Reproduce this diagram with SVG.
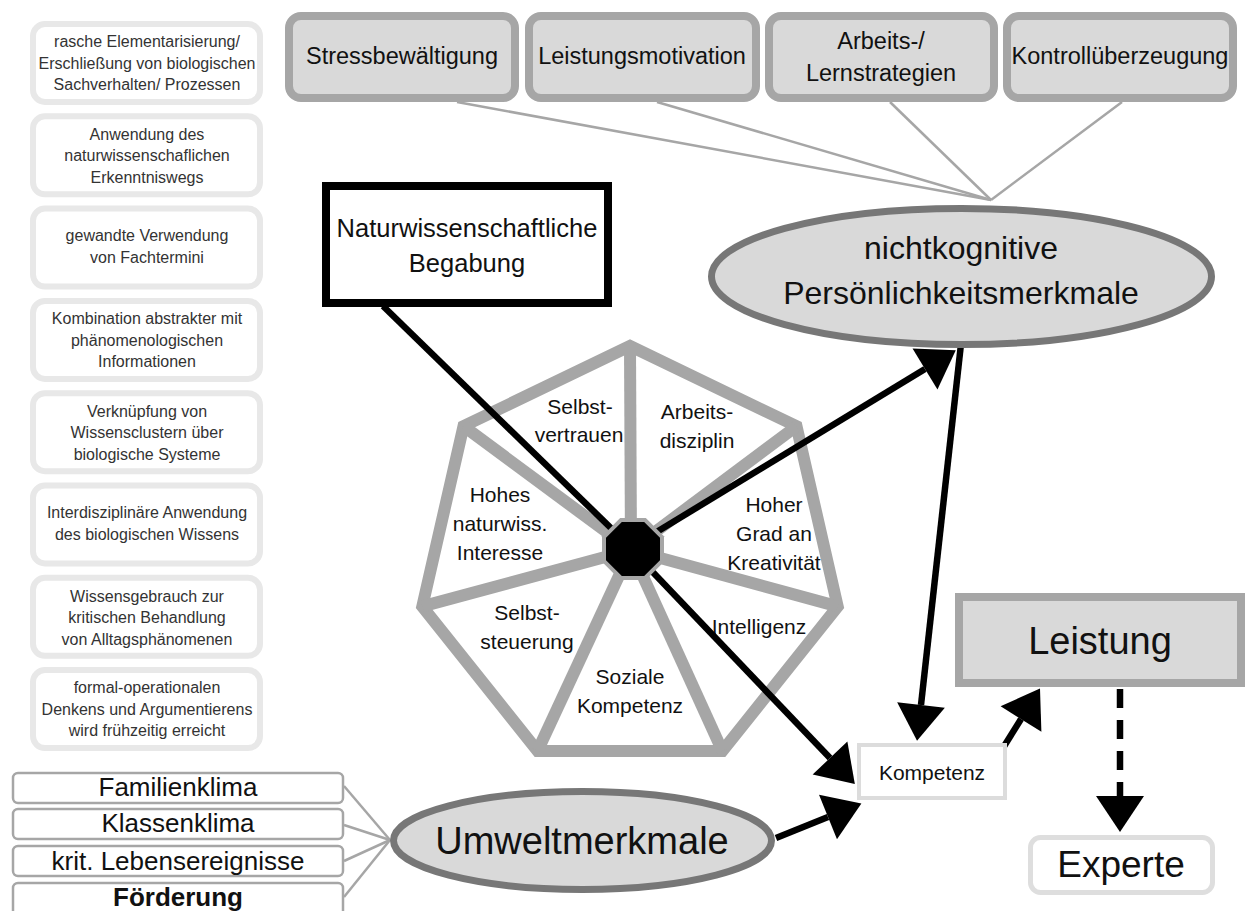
<svg xmlns="http://www.w3.org/2000/svg" width="1245" height="911" viewBox="0 0 1245 911">
  <defs>
    <style>
      text { font-family: "Liberation Sans", Arial, sans-serif; fill: #111; text-anchor: middle; }
      .kbox { fill: #fff; stroke: #e8e8e8; stroke-width: 6; }
      .ktxt { font-size: 16px; fill: #333; }
      .pbox { fill: #d9d9d9; stroke: #a6a6a6; stroke-width: 8; }
      .ptxt { font-size: 23.5px; }
      .ell { fill: #d9d9d9; stroke: #777; stroke-width: 7; }
      .ubox { fill: #fff; stroke: #a6a6a6; stroke-width: 2.5; }
      .utxt { font-size: 26px; }
      .hept { fill: #fff; stroke: #a6a6a6; stroke-width: 12; stroke-linejoin: miter; }
      .spoke { stroke: #a6a6a6; stroke-width: 12; }
      .htxt { font-size: 21px; }
      .thin { stroke: #a6a6a6; stroke-width: 2.5; fill: none; }
      .arrow { stroke: #000; stroke-width: 6.5; fill: none; }
    </style>
    <marker id="head" markerUnits="userSpaceOnUse" markerWidth="40" markerHeight="52" viewBox="0 -26 40 52" refX="0" refY="0" orient="auto" overflow="visible">
      <path d="M0,-24 L36,0 L0,24 Z" fill="#000" stroke="none"/>
    </marker>
  </defs>

  <!-- thin connectors: personality traits and environment factors -->
  <g id="thin-connectors">
    <line class="thin" x1="457" y1="102" x2="991" y2="200"/>
    <line class="thin" x1="657" y1="102" x2="991" y2="200"/>
    <line class="thin" x1="890" y1="102" x2="991" y2="200"/>
    <line class="thin" x1="1122" y1="102" x2="991" y2="200"/>
    <line class="thin" x1="344" y1="786" x2="390" y2="840"/>
    <line class="thin" x1="344" y1="825" x2="390" y2="840"/>
    <line class="thin" x1="344" y1="861" x2="390" y2="840"/>
    <line class="thin" x1="344" y1="897" x2="390" y2="840"/>
  </g>

  <!-- knowledge characteristics, left column -->
  <g id="k1"><rect class="kbox" x="33" y="24" width="227" height="78" rx="12"/>
    <text class="ktxt" x="147" y="47">rasche Elementarisierung/</text>
    <text class="ktxt" x="147" y="68.5">Erschließung von biologischen</text>
    <text class="ktxt" x="147" y="90">Sachverhalten/ Prozessen</text></g>
  <g id="k2"><rect class="kbox" x="33" y="116.3" width="227" height="78" rx="12"/>
    <text class="ktxt" x="147" y="139.5">Anwendung des</text>
    <text class="ktxt" x="147" y="161">naturwissenschaflichen</text>
    <text class="ktxt" x="147" y="182.5">Erkenntniswegs</text></g>
  <g id="k3"><rect class="kbox" x="33" y="208.6" width="227" height="78" rx="12"/>
    <text class="ktxt" x="147" y="240.5">gewandte Verwendung</text>
    <text class="ktxt" x="147" y="262.5">von Fachtermini</text></g>
  <g id="k4"><rect class="kbox" x="33" y="300.9" width="227" height="78" rx="12"/>
    <text class="ktxt" x="147" y="324">Kombination abstrakter mit</text>
    <text class="ktxt" x="147" y="345.5">phänomenologischen</text>
    <text class="ktxt" x="147" y="367">Informationen</text></g>
  <g id="k5"><rect class="kbox" x="33" y="393.2" width="227" height="78" rx="12"/>
    <text class="ktxt" x="147" y="416.5">Verknüpfung von</text>
    <text class="ktxt" x="147" y="438">Wissensclustern über</text>
    <text class="ktxt" x="147" y="459.5">biologische Systeme</text></g>
  <g id="k6"><rect class="kbox" x="33" y="485.5" width="227" height="78" rx="12"/>
    <text class="ktxt" x="147" y="518">Interdisziplinäre Anwendung</text>
    <text class="ktxt" x="147" y="540">des biologischen Wissens</text></g>
  <g id="k7"><rect class="kbox" x="33" y="577.8" width="227" height="78" rx="12"/>
    <text class="ktxt" x="147" y="601.5">Wissensgebrauch zur</text>
    <text class="ktxt" x="147" y="623">kritischen Behandlung</text>
    <text class="ktxt" x="147" y="644.5">von Alltagsphänomenen</text></g>
  <g id="k8"><rect class="kbox" x="33" y="670.1" width="227" height="78" rx="12"/>
    <text class="ktxt" x="147" y="693">formal-operationalen</text>
    <text class="ktxt" x="147" y="714.5">Denkens und Argumentierens</text>
    <text class="ktxt" x="147" y="736">wird frühzeitig erreicht</text></g>

  <!-- personality traits, top row -->
  <g id="p1"><rect class="pbox" x="289" y="16" width="226" height="82" rx="12"/>
    <text class="ptxt" x="402" y="64">Stressbewältigung</text></g>
  <g id="p2"><rect class="pbox" x="529" y="16" width="227" height="82" rx="12"/>
    <text class="ptxt" x="642" y="64">Leistungsmotivation</text></g>
  <g id="p3"><rect class="pbox" x="769" y="16" width="225" height="82" rx="12"/>
    <text class="ptxt" x="881" y="49">Arbeits-/</text>
    <text class="ptxt" x="881" y="81">Lernstrategien</text></g>
  <g id="p4"><rect class="pbox" x="1007" y="16" width="226" height="82" rx="12"/>
    <text class="ptxt" x="1120" y="64">Kontrollüberzeugung</text></g>

  <!-- aptitude box -->
  <g id="begabung"><rect x="326" y="186" width="282" height="117" fill="#fff" stroke="#000" stroke-width="8"/>
    <text x="467" y="237" style="font-size:25.5px">Naturwissenschaftliche</text>
    <text x="467" y="272" style="font-size:25.5px">Begabung</text></g>

  <!-- heptagon of personal factors -->
  <g id="heptagon">
    <polygon class="hept" points="630,346 796.5,426.2 837.7,606.4 722.4,750.9 537.6,750.9 422.3,606.4 463.5,426.2"/>
    <line class="spoke" x1="630" y1="346" x2="631" y2="550"/>
    <line class="spoke" x1="796.5" y1="426.2" x2="631" y2="550"/>
    <line class="spoke" x1="837.7" y1="606.4" x2="631" y2="550"/>
    <line class="spoke" x1="722.4" y1="750.9" x2="631" y2="550"/>
    <line class="spoke" x1="537.6" y1="750.9" x2="631" y2="550"/>
    <line class="spoke" x1="422.3" y1="606.4" x2="631" y2="550"/>
    <line class="spoke" x1="463.5" y1="426.2" x2="631" y2="550"/>
    <text class="htxt" x="580" y="414">Selbst-</text>
    <text class="htxt" x="579" y="442">vertrauen</text>
    <text class="htxt" x="697" y="419">Arbeits-</text>
    <text class="htxt" x="697" y="448">disziplin</text>
    <text class="htxt" x="500" y="502">Hohes</text>
    <text class="htxt" x="500" y="531">naturwiss.</text>
    <text class="htxt" x="500" y="560">Interesse</text>
    <text class="htxt" x="774" y="512">Hoher</text>
    <text class="htxt" x="774" y="541">Grad an</text>
    <text class="htxt" x="774" y="570">Kreativität</text>
    <text class="htxt" x="527" y="620">Selbst-</text>
    <text class="htxt" x="527" y="649">steuerung</text>
    <text class="htxt" x="759" y="634">Intelligenz</text>
    <text class="htxt" x="630" y="684">Soziale</text>
    <text class="htxt" x="630" y="713">Kompetenz</text>
  </g>

  <!-- main connectors -->
  <g id="connectors">
    <line class="arrow" x1="383" y1="306" x2="615" y2="532"/>
    <line class="arrow" x1="650" y1="536" x2="925" y2="369" marker-end="url(#head)"/>
    <line class="arrow" x1="961" y1="344" x2="921" y2="705" marker-end="url(#head)"/>
    <line class="arrow" x1="646" y1="565" x2="830" y2="758" marker-end="url(#head)"/>
    <line class="arrow" x1="776" y1="838" x2="828" y2="817" marker-end="url(#head)"/>
    <line class="arrow" x1="1003" y1="748" x2="1021" y2="719" marker-end="url(#head)"/>
    <line class="arrow" x1="1120" y1="689" x2="1120" y2="796" stroke-dasharray="19 12" marker-end="url(#head)"/>
  </g>

  <!-- hub of the heptagon -->
  <g id="hub">
    <polygon fill="#a6a6a6" points="664,561.8 645.8,580 620.2,580 602,561.8 602,536.2 620.2,518 645.8,518 664,536.2"/>
    <polygon fill="#000" points="660,560.2 644.2,576 621.8,576 606,560.2 606,537.8 621.8,522 644.2,522 660,537.8"/>
  </g>

  <!-- non-cognitive traits -->
  <g id="nichtkognitiv"><ellipse class="ell" cx="961.5" cy="276.5" rx="250" ry="68"/>
    <text x="961" y="259" style="font-size:32px">nichtkognitive</text>
    <text x="961" y="304" style="font-size:32px">Persönlichkeitsmerkmale</text></g>

  <!-- environment -->
  <g id="umwelt"><ellipse class="ell" cx="582.5" cy="840.5" rx="189" ry="49"/>
    <text x="582" y="854" style="font-size:38px">Umweltmerkmale</text></g>

  <g id="u1"><rect class="ubox" x="13" y="773" width="330" height="30" rx="5"/>
    <text class="utxt" x="178" y="796">Familienklima</text></g>
  <g id="u2"><rect class="ubox" x="13" y="809" width="330" height="30" rx="5"/>
    <text class="utxt" x="178" y="832">Klassenklima</text></g>
  <g id="u3"><rect class="ubox" x="13" y="846" width="330" height="30" rx="5"/>
    <text class="utxt" x="178" y="870">krit. Lebensereignisse</text></g>
  <g id="u4"><rect class="ubox" x="13" y="883" width="330" height="34" rx="5"/>
    <text class="utxt" x="178" y="906" style="font-weight:bold">Förderung</text></g>

  <!-- competence, performance, expert -->
  <g id="kompetenz"><rect x="859" y="745" width="146" height="53" fill="#fff" stroke="#dcdcdc" stroke-width="4"/>
    <text x="932" y="780" style="font-size:21px">Kompetenz</text></g>
  <g id="leistung"><rect x="959" y="597" width="282" height="86" fill="#d9d9d9" stroke="#a6a6a6" stroke-width="8"/>
    <text x="1100" y="654" style="font-size:38px">Leistung</text></g>
  <g id="experte"><rect x="1030.5" y="837.5" width="182" height="55" rx="10" fill="#fff" stroke="#dedede" stroke-width="5"/>
    <text x="1121" y="877" style="font-size:37px">Experte</text></g>
</svg>
